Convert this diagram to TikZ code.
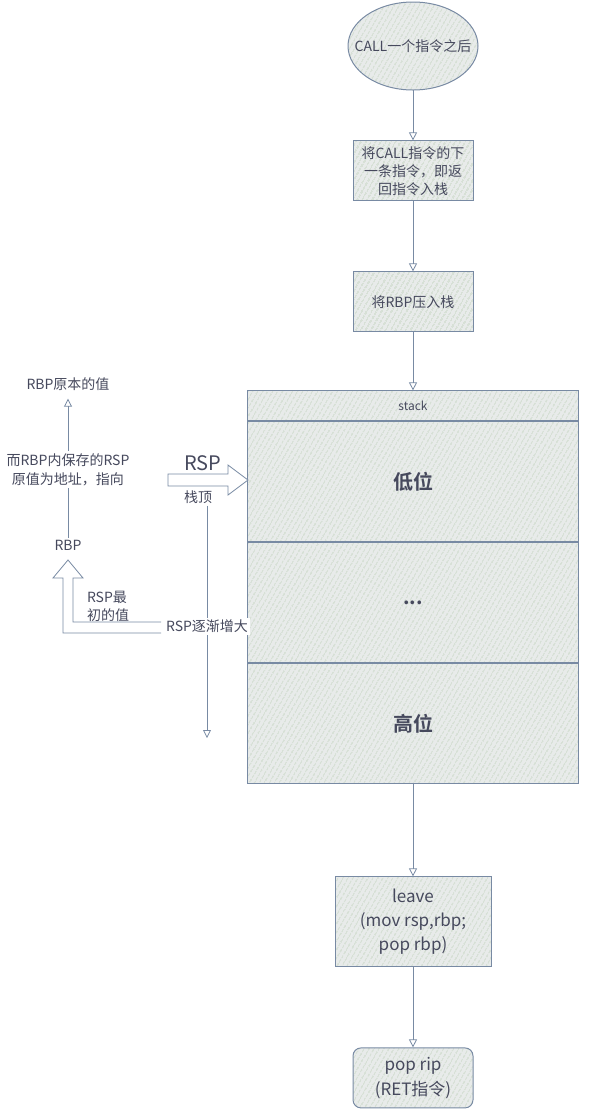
\documentclass[tikz,border=0pt]{standalone}
\usepackage{fontspec}
\setmainfont{Noto Sans CJK SC}[BoldFont={Noto Sans CJK SC Bold}]
\usetikzlibrary{shapes.geometric,arrows.meta,positioning,patterns.meta}
\definecolor{edgegrey}{RGB}{120,138,163}
\definecolor{inkgrey}{RGB}{70,73,93}
\definecolor{sagebg}{RGB}{232,235,234}
\definecolor{sageline}{RGB}{184,204,180}

\begin{document}
\begin{tikzpicture}[x=1pt,y=-1pt,
  font=\fontsize{14}{18}\selectfont,text=inkgrey,
  hatch/.style={draw=edgegrey,line width=1pt,preaction={fill=sagebg},pattern={Lines[angle=60,distance=4pt,line width=.8pt]},pattern color=sageline},
  flowbox/.style={hatch,minimum width=120pt,minimum height=60pt,align=center,inner sep=2pt},
  cell/.style={hatch,minimum width=331pt,minimum height=120pt,font=\fontsize{20}{22}\selectfont\bfseries},
  conn/.style={-{Triangle[open,length=8pt,width=8pt]},edgegrey,line width=.8pt},
  note/.style={align=center,inner sep=2pt,text=inkgrey},
  cover/.style={note,fill=white},
  hollow/.style={draw=edgegrey,line width=.8pt,fill=white}]
\useasboundingbox (0,0) rectangle (590,1112);
% main column
\node[ellipse,hatch,minimum width=130pt,minimum height=88pt,inner sep=0pt] (start) at (413,46) {\makebox[0pt]{CALL一个指令之后}};
\node[flowbox,below=50pt of start] (pushret) {将CALL指令的下\\一条指令，即返\\回指令入栈};
\node[flowbox,below=70pt of pushret] (pushrbp) {将RBP压入栈};
\node[hatch,minimum width=331pt,minimum height=30pt,font=\fontsize{12}{14}\selectfont,below=58pt of pushrbp] (stacktitle) {stack};
\node[cell,below=0pt of stacktitle] (lowcell) {低位};
\node[cell,below=0pt of lowcell] (midcell) {...};
\node[cell,below=0pt of midcell] (highcell) {高位};
\node[flowbox,minimum width=156pt,minimum height=90pt,font=\fontsize{17}{24}\selectfont,below=92pt of highcell] (leave) {leave\\(mov rsp,rbp;\\pop rbp)};
\node[flowbox,rounded corners=8pt,font=\fontsize{17}{25}\selectfont,below=80pt of leave] (popret) {pop rip\\(RET指令)};
\foreach \a/\b in {start/pushret,pushret/pushrbp,pushrbp/stacktitle,highcell/leave,leave/popret} \draw[conn] (\a)--(\b);
% left side notes
\node[note] (origval) at (68,384) {RBP原本的值};
\node[note] (rbpnode) at (68,545) {RBP};
\draw[conn,shorten >=6pt] (rbpnode) -- node[cover,pos=.47,font=\fontsize{14}{19}\selectfont]{而RBP内保存的RSP\\原值为地址，指向} (origval);
\node[note,align=left] (initval) at (108,606) {RSP最\\初的值};
\draw[hollow] (161,622) -- (73,622) -- (73,578) -- (83,578) -- (68,560) -- (53,578) -- (63,578) -- (63,633) -- (161,633);
% RSP pointer
\draw[hollow] (168,474) -- (228,474) -- (228,465) -- (248,480) -- (228,495) -- (228,486) -- (168,486) -- cycle;
\node[note,font=\fontsize{20}{22}\selectfont] (rsplbl) at (203,463) {RSP};
\node[note] (stacktop) at (198,497) {栈顶};
\coordinate (growend) at (207,738);
\draw[conn] (stacktop.south -| growend) -- node[cover,pos=.52] (grow) {RSP逐渐增大} (growend);
\end{tikzpicture}
\end{document}
